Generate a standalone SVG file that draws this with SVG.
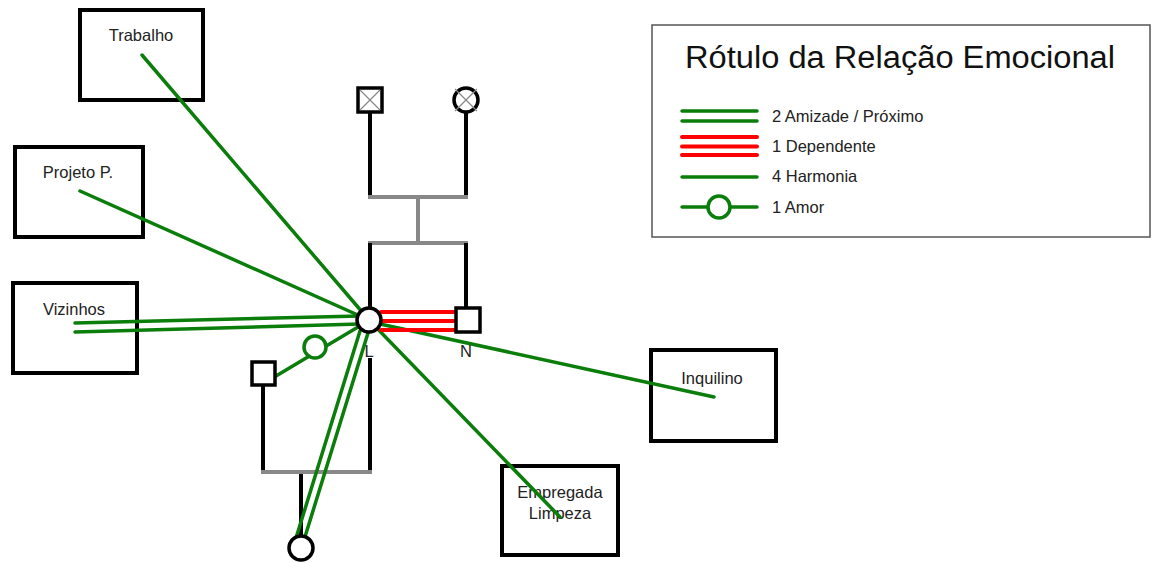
<svg xmlns="http://www.w3.org/2000/svg" width="1152" height="563" viewBox="0 0 1152 563">
<style>
.box{fill:#fff;stroke:#000;stroke-width:4}
.lbl{font-family:"Liberation Sans",Arial,sans-serif;font-size:16.5px;fill:#222;text-anchor:middle}
.g{stroke:#0a7d0a;stroke-width:3.5;fill:none;stroke-linecap:round}
.r{stroke:#f00;stroke-width:4;fill:none;stroke-linecap:round}
.k{stroke:#000;stroke-width:4;fill:none}
.gr{stroke:#888;stroke-width:4;fill:none}
.x{stroke:#888;stroke-width:1.2}
.ind{fill:#fff;stroke:#000;stroke-width:3.5}
.leg{font-family:"Liberation Sans",Arial,sans-serif;font-size:16.5px;fill:#222}
</style>
<rect width="1152" height="563" fill="#fff"/>
<g id="family-lines">
<path class="k" d="M370,112 V197 M466,112 V197"/>
<path class="gr" d="M368,197 H468 M418,197 V243 M368,243 H468"/>
<path class="k" d="M370,243 V308 M466,243 V308"/>
<path class="k" d="M370,358 V472 M263,385 V472 M301,472 V536"/>
<path class="gr" d="M261,472 H372"/>
</g>
<g id="box-trabalho"><rect class="box" x="80" y="10" width="123" height="90"/><text class="lbl" x="141" y="41">Trabalho</text></g>
<g id="box-projeto"><rect class="box" x="15" y="147" width="128" height="90"/><text class="lbl" x="78" y="178">Projeto P.</text></g>
<g id="box-vizinhos"><rect class="box" x="13" y="283" width="124" height="90"/><text class="lbl" x="74" y="315">Vizinhos</text></g>
<g id="box-inquilino"><rect class="box" x="651" y="350" width="125" height="91"/><text class="lbl" x="712" y="384">Inquilino</text></g>
<g id="box-empregada"><rect class="box" x="502" y="466" width="116" height="89"/><text class="lbl" x="560" y="498">Empregada</text><text class="lbl" x="560" y="519">Limpeza</text></g>
<g id="connectors">
<path class="g" d="M142,55 L369,320"/>
<path class="g" d="M80,191 L369,320"/>
<path class="g" d="M75,323 L360,316 M75,332 L360,324"/>
<path class="g" d="M380,324 L714,397"/>
<path class="g" d="M369,320 L560,517"/>
<path class="g" d="M360,331 L296,538 M368,333 L304,540"/>
<path class="g" d="M276,376 L358,327"/>
<circle cx="315" cy="347" r="11" fill="#fff" stroke="#0a7d0a" stroke-width="3.5"/>
<path class="r" d="M381,312 H455 M382,321 H455 M381,330 H455"/>
</g>
<g id="father"><rect class="ind" x="358" y="88" width="24" height="24"/><path class="x" d="M360,90 L380,110 M380,90 L360,110"/></g>
<g id="mother"><circle class="ind" cx="466" cy="100" r="12"/><path class="x" d="M455,89 L477,111 M477,89 L455,111"/></g>
<g id="L"><circle class="ind" cx="369" cy="320" r="12"/><text class="lbl" x="369" y="357">L</text></g>
<g id="N"><rect class="ind" x="456" y="308" width="24" height="24"/><text class="lbl" x="466" y="357">N</text></g>
<g id="partner"><rect class="ind" x="252" y="362" width="23" height="23"/></g>
<g id="child"><circle class="ind" cx="301" cy="548" r="12"/></g>
<g id="legend">
<rect x="652" y="25" width="498" height="212" fill="#fff" stroke="#555" stroke-width="1.5"/>
<text x="685" y="68" font-family="Liberation Sans,Arial,sans-serif" font-size="31" fill="#111" textLength="430" lengthAdjust="spacingAndGlyphs">Rótulo da Relação Emocional</text>
<path class="g" d="M682,111 H757 M682,121 H757"/>
<path class="r" d="M682,137 H757 M682,146.5 H757 M682,155 H757"/>
<path class="g" d="M682,177 H757"/>
<path class="g" d="M682,207 H757"/>
<circle cx="719" cy="207" r="11" fill="#fff" stroke="#0a7d0a" stroke-width="3.5"/>
<text class="leg" x="772" y="122">2 Amizade / Próximo</text>
<text class="leg" x="772" y="152">1 Dependente</text>
<text class="leg" x="772" y="182">4 Harmonia</text>
<text class="leg" x="772" y="213">1 Amor</text>
</g>
</svg>
